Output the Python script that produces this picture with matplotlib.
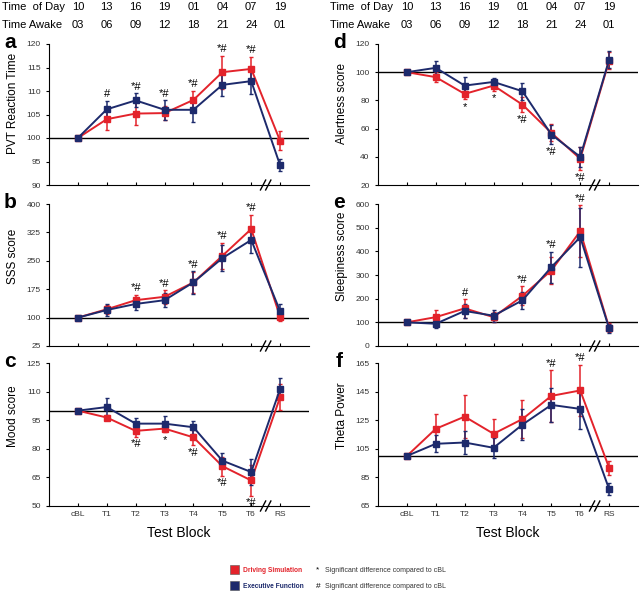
#!/usr/bin/env python
# -*- coding: utf-8 -*-

"""
Six panels: driving simulation vs executive function across test blocks.
"""

import numpy as np
import matplotlib
matplotlib.use('Agg')
import matplotlib.pyplot as plt
from matplotlib.patches import Rectangle

plt.rcParams['font.family'] = ['Liberation Sans', 'DejaVu Sans']

blocks = ['cBL', 'T1', 'T2', 'T3', 'T4', 'T5', 'T6', 'RS']
time_of_day = ['10', '13', '16', '19', '01', '04', '07', '19']
time_awake = ['03', '06', '09', '12', '18', '21', '24', '01']

# a: PVT reaction time
pvt_drive = [100, 104.0, 105.2, 105.3, 108.1, 114.0, 114.7, 99.4]
pvt_drive_err = [0, 2.2, 2.5, 1.5, 2.0, 3.5, 2.6, 2.0]
pvt_exec = [100, 106.1, 108.0, 106.0, 106.0, 111.3, 112.1, 94.2]
pvt_exec_err = [0, 1.8, 1.5, 2.1, 2.6, 2.3, 2.8, 1.3]
pvt_marks = ['', '#', '*#', '*#', '*#', '*#', '*#', '']

# b: SSS score
sss_drive = [100, 122, 146, 155, 193, 263, 334, 102]
sss_drive_err = [0, 12, 15, 18, 28, 35, 38, 12]
sss_exec = [100, 120, 136, 146, 193, 257, 305, 117]
sss_exec_err = [0, 15, 15, 18, 30, 35, 35, 18]
sss_marks = ['', '', '*#', '*#', '*#', '*#', '*#', '']

# c: mood score
mood_drive = [100, 96.4, 89.4, 90.6, 86.0, 70.9, 63.4, 107.1]
mood_drive_err = [0, 1.5, 3.0, 2.0, 4.0, 5.0, 8.0, 7.0]
mood_exec = [100, 101.9, 93.2, 93.2, 91.3, 73.8, 67.8, 111.4]
mood_exec_err = [0, 4.5, 3.0, 4.0, 3.5, 4.0, 7.0, 5.5]
mood_marks = ['', '', '*#', '*', '*#', '*#', '*#', '']

# d: alertness score
alert_drive = [100, 96.5, 84.6, 90.5, 77.0, 57.0, 38.6, 108.0]
alert_drive_err = [0, 3.5, 3.5, 3.5, 5.5, 6.0, 8.0, 6.0]
alert_exec = [100, 103.1, 90.5, 93.1, 86.5, 55.8, 40.0, 108.8]
alert_exec_err = [0, 4.5, 6.0, 3.0, 6.0, 7.0, 7.0, 6.0]
alert_marks = ['', '', '*', '*', '*#', '*#', '*#', '']

# e: sleepiness score
sleep_drive = [100, 122, 159, 122, 212, 319, 485, 78]
sleep_drive_err = [0, 30, 40, 20, 40, 55, 110, 20]
sleep_exec = [100, 94, 148, 128, 193, 333, 460, 75]
sleep_exec_err = [0, 20, 30, 25, 35, 65, 125, 20]
sleep_marks = ['', '', '#', '', '*#', '*#', '*#', '']

# f: theta power
theta_drive = [100, 119.0, 127.5, 115.5, 125.8, 142.0, 145.8, 91.7]
theta_drive_err = [0, 10, 15, 10, 13, 18, 18, 5]
theta_exec = [100, 108.5, 109.4, 105.7, 121.9, 135.7, 132.9, 76.8]
theta_exec_err = [0, 6, 8, 7, 11, 12, 14, 4]
theta_marks = ['', '', '', '', '', '*#', '*#', '']

RED = '#e3232b'
BLUE = '#1d2a6c'


def draw_panel(ax, drive, drive_err, exe, exe_err, marks, ylim, yticks,
               ylabel, letter, below=False, last_row=False, label_y=0.62):
    x = np.arange(len(blocks))
    ax.axhline(100, color='black', lw=1.0, zorder=1)
    for y, e, c in ((drive, drive_err, RED), (exe, exe_err, BLUE)):
        ax.errorbar(x, y, yerr=e, color=c, lw=1.4, marker='s', ms=4.8,
                    elinewidth=1.1, capsize=1.5, capthick=1.0, zorder=3)
    top = np.maximum(np.add(drive, drive_err), np.add(exe, exe_err))
    bot = np.minimum(np.subtract(drive, drive_err), np.subtract(exe, exe_err))
    for i, m in enumerate(marks):
        if not m:
            continue
        if below:
            ax.annotate(m, (x[i], bot[i]), xytext=(0, -2),
                        textcoords='offset points', ha='center', va='top',
                        fontsize=8, annotation_clip=False)
        else:
            ax.annotate(m, (x[i], top[i]), xytext=(0, 1),
                        textcoords='offset points', ha='center', va='bottom',
                        fontsize=8, annotation_clip=False)

    ax.set_xlim(-1, 8)
    ax.set_ylim(*ylim)
    ax.set_yticks(yticks)
    ax.set_xticks(x)
    ax.spines['top'].set_visible(False)
    ax.spines['right'].set_visible(False)
    ax.tick_params(axis='y', labelsize=6, length=2.5, labelcolor='#333333')
    ax.tick_params(axis='x', direction='in', length=2.5, labelsize=6,
                   labelcolor='#333333')
    if last_row:
        ax.set_xticklabels(blocks)
        ax.set_xlabel('Test Block', fontsize=10, labelpad=6)
    else:
        ax.set_xticklabels([])
    ax.set_ylabel(ylabel, fontsize=8.5)
    ax.yaxis.set_label_coords(-0.115, label_y)

    # axis break marks between T6 and RS
    tr = ax.get_xaxis_transform()
    for dx in (-0.09, 0.09):
        ax.plot([6.5 + dx - 0.09, 6.5 + dx + 0.09], [-0.035, 0.035],
                transform=tr, color='black', lw=1.0, clip_on=False, zorder=5)
    ax.text(-0.15, 1.01, letter, transform=ax.transAxes, fontsize=15,
            fontweight='bold', ha='center', va='center')


if __name__ == '__main__':

    fig = plt.figure(figsize=(6.4, 5.96), dpi=100)

    lx, rx, w = 49 / 640., 378 / 640., 260 / 640.
    rows = [(1 - 185 / 596., 141 / 596.),
            (1 - 346 / 596., 142 / 596.),
            (1 - 506 / 596., 143 / 596.)]

    ax_a = fig.add_axes([lx, rows[0][0], w, rows[0][1]])
    draw_panel(ax_a, pvt_drive, pvt_drive_err, pvt_exec, pvt_exec_err,
               pvt_marks, (90, 120), np.arange(90, 121, 5),
               'PVT Reaction Time', 'a', label_y=0.575)

    ax_b = fig.add_axes([lx, rows[1][0], w, rows[1][1]])
    draw_panel(ax_b, sss_drive, sss_drive_err, sss_exec, sss_exec_err,
               sss_marks, (25, 400), np.arange(25, 401, 75),
               'SSS score', 'b', label_y=0.63)

    ax_c = fig.add_axes([lx, rows[2][0], w, rows[2][1]])
    draw_panel(ax_c, mood_drive, mood_drive_err, mood_exec, mood_exec_err,
               mood_marks, (50, 125), np.arange(50, 126, 15),
               'Mood score', 'c', below=True, last_row=True, label_y=0.63)

    ax_d = fig.add_axes([rx, rows[0][0], w, rows[0][1]])
    draw_panel(ax_d, alert_drive, alert_drive_err, alert_exec, alert_exec_err,
               alert_marks, (20, 120), np.arange(20, 121, 20),
               'Alertness score', 'd', below=True, label_y=0.575)

    ax_e = fig.add_axes([rx, rows[1][0], w, rows[1][1]])
    draw_panel(ax_e, sleep_drive, sleep_drive_err, sleep_exec, sleep_exec_err,
               sleep_marks, (0, 600), np.arange(0, 601, 100),
               'Sleepiness score', 'e', label_y=0.63)

    ax_f = fig.add_axes([rx, rows[2][0], w, rows[2][1]])
    draw_panel(ax_f, theta_drive, theta_drive_err, theta_exec, theta_exec_err,
               theta_marks, (65, 165), np.arange(65, 166, 20),
               'Theta Power', 'f', last_row=True, label_y=0.63)

    # header rows above the top panels
    for ax, xlab in ((ax_a, 2 / 640.), (ax_d, 330 / 640.)):
        fig.text(xlab, 1 - 7 / 596., 'Time  of Day', fontsize=8, va='center')
        fig.text(xlab, 1 - 25 / 596., 'Time Awake', fontsize=8, va='center')
        tr = ax.get_xaxis_transform()
        for i in range(len(blocks)):
            ax.text(i, 1 + 37 / 141., time_of_day[i], transform=tr,
                    fontsize=8, ha='center', va='center')
            ax.text(i, 1 + 19 / 141., time_awake[i], transform=tr,
                    fontsize=8, ha='center', va='center')

    # legend at the bottom
    for yy, col, name, sym in ((570, RED, 'Driving Simulation', '*'),
                               (586, BLUE, 'Executive Function', '#')):
        fig.patches.append(Rectangle((230 / 640., 1 - (yy + 4) / 596.),
                                     9 / 640., 9 / 596., facecolor=col,
                                     edgecolor='#555555', lw=0.4,
                                     transform=fig.transFigure))
        fig.text(243 / 640., 1 - yy / 596., name, color=col, fontsize=4.8,
                 fontweight='bold', va='center')
        fig.text(318 / 640., 1 - yy / 596., sym, fontsize=6, va='center',
                 ha='center')
        fig.text(325 / 640., 1 - yy / 596.,
                 'Significant difference compared to cBL', fontsize=5,
                 va='center', color='#333333')

    fig.savefig('out.png', dpi=100)
